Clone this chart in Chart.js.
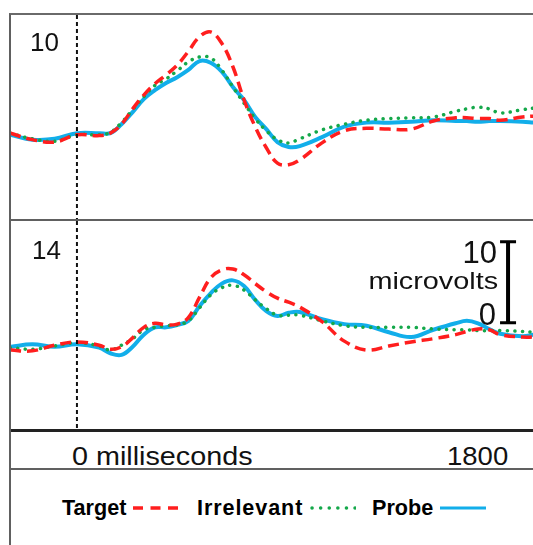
<!DOCTYPE html>
<html>
<head>
<meta charset="utf-8">
<script src="https://cdn.jsdelivr.net/npm/chart.js@4.4.1/dist/chart.umd.min.js"></script>
<style>
  html, body { margin: 0; padding: 0; background: #fff; width: 533px; height: 545px; overflow: hidden; }
  body { position: relative; font-family: "Liberation Sans", Arial, sans-serif; color: #111; }
  #frame { position: absolute; left: 9px; top: 13px; width: 600px; height: 560px;
           border-left: 2px solid #606060; border-top: 2px solid #6a6a6a; }
  .panel { position: absolute; left: 0; width: 522px; }
  #p1 { top: 0; height: 204px; }
  #p2 { top: 206px; height: 208px; }
  .rule { position: absolute; left: 0; width: 600px; }
  #sep { top: 204px; height: 2px; background: #606060; }
  #axline { top: 414px; height: 3px; background: #222; }
  #legline { top: 453px; height: 2px; background: #606060; }
  .axlabel { position: absolute; font-size: 25px; line-height: 25px; white-space: nowrap; transform-origin: 0 50%; }
  .legitem { position: absolute; display: flex; align-items: center; font-weight: bold; font-size: 21.6px; line-height: 21.6px; color: #000; white-space: nowrap; }
  .legitem svg { margin-left: 7px; }
</style>
</head>
<body>
<div id="frame">
  <div class="panel" id="p1"><canvas id="chart1"></canvas></div>
  <div class="rule" id="sep"></div>
  <div class="panel" id="p2"><canvas id="chart2"></canvas></div>
  <div class="rule" id="axline"></div>
  <div id="axisLabels"></div>
  <div class="rule" id="legline"></div>
  <div id="legend"></div>
</div>
<script>
// temps (ms) de chaque point
const timesMs = [-300, -200, -100, 0, 100, 150, 200, 250, 300, 350, 400, 450, 500, 550, 600, 650, 700, 750,
                 800, 850, 900, 950, 1000, 1100, 1200, 1300, 1400, 1500, 1600, 1700, 1750, 1800, 1850, 1900, 2000, 2050];

// panneau "10" (microvolts)
const p1Target     = [0.1, -0.7, -1.0, -0.1, -0.2, 0.1, 1.2, 3.1, 4.8, 6.2, 7.3, 8.5, 10.2, 12.0, 12.6, 11.2, 8.3, 4.2,
                      0.9, -1.7, -3.6, -3.8, -3.2, -1.1, 0.4, 0.7, 0.6, 0.6, 1.6, 2.0, 2.0, 1.9, 1.9, 1.7, 2.1, 2.2];
const p1Irrelevant = [0.1, -0.6, -0.9, -0.1, -0.1, 0.2, 1.4, 3.0, 4.6, 6.0, 6.8, 7.8, 8.9, 9.5, 9.4, 7.9, 5.8, 3.8,
                      1.9, 0.4, -0.7, -1.1, -0.6, 0.5, 1.2, 1.7, 1.9, 2.0, 2.1, 2.8, 3.1, 3.3, 3.1, 2.6, 3.0, 3.2];
const p1Probe      = [-0.1, -0.7, -0.6, 0.1, 0.1, 0.1, 1.2, 2.7, 4.3, 5.4, 6.3, 7.0, 7.9, 9.0, 8.8, 7.7, 5.8, 4.2,
                      2.1, 0.6, -1.0, -1.6, -1.5, -0.4, 0.9, 1.4, 1.4, 1.5, 1.7, 1.6, 1.6, 1.5, 1.6, 1.6, 1.5, 1.4];

// panneau "14"
const p2Target     = [-0.5, -0.6, 0.1, 0.5, 0.1, -0.4, -0.1, 1.0, 2.3, 2.8, 2.6, 2.7, 3.5, 6.0, 8.4, 9.4, 9.5, 8.8,
                      7.7, 6.7, 5.9, 5.4, 4.8, 3.0, 0.6, -0.5, 0.0, 0.5, 0.9, 1.4, 1.8, 2.1, 2.0, 1.4, 1.1, 1.1];
const p2Irrelevant = [-0.2, -0.4, 0.0, 0.4, 0.0, -0.5, 0.1, 0.9, 2.0, 2.3, 2.5, 2.6, 3.1, 4.7, 6.3, 7.2, 7.5, 6.9,
                      5.7, 4.6, 3.8, 3.8, 3.8, 3.1, 2.5, 2.3, 2.3, 2.3, 2.1, 2.0, 2.0, 1.9, 1.9, 1.9, 1.8, 1.7];
const p2Probe      = [-0.1, 0.2, -0.1, 0.2, -0.2, -0.9, -1.1, -0.1, 1.4, 2.3, 2.3, 2.6, 3.1, 4.9, 6.5, 7.7, 8.1, 7.4,
                      5.7, 4.3, 3.7, 4.1, 4.2, 3.3, 2.7, 2.5, 1.7, 1.1, 2.0, 2.8, 3.1, 2.8, 2.1, 1.5, 1.2, 1.4];

const seriesNames = ['Target', 'Irrelevant', 'Probe'];
const panelLabels = ['10', '14'];
const xTickLabels = ['0 milliseconds', '1800'];
const scaleBarLabels = ['10', 'microvolts', '0'];
const scaleBarUv = 10;

// styles
const colors = ['#ff1e1e', '#14a84a', '#12aeea'];
const dashes = [[11, 6], [0.1, 7.5], []];
const widths = [3.5, 3.5, 4];

function pairs(vals) {
  return timesMs.map((t, i) => ({ x: t, y: vals[i] }));
}

// décor : ligne d'origine, numéro du panneau, barre d'échelle
const panelDecor = {
  id: 'panelDecor',
  afterDatasetsDraw(chart, args, opts) {
    const { ctx, chartArea, scales: { x, y } } = chart;
    const x0 = x.getPixelForValue(0);
    ctx.save();
    ctx.strokeStyle = '#111';
    ctx.lineWidth = 2;
    ctx.setLineDash([4, 3]);
    ctx.beginPath();
    ctx.moveTo(x0, chartArea.top);
    ctx.lineTo(x0, chartArea.bottom);
    ctx.stroke();
    ctx.setLineDash([]);

    ctx.fillStyle = '#111';
    ctx.font = '26px "Liberation Sans", Arial, sans-serif';
    ctx.textAlign = 'left';
    ctx.textBaseline = 'alphabetic';
    ctx.fillText(opts.label, opts.labelX, opts.labelY);

    if (opts.scaleBar) {
      const sb = opts.scaleBar;
      const bx = x.getPixelForValue(sb.atMs);
      const yTop = y.getPixelForValue(sb.fromUv + scaleBarUv);
      const yBot = y.getPixelForValue(sb.fromUv);
      ctx.strokeStyle = '#000';
      ctx.lineWidth = 4;
      ctx.beginPath();
      ctx.moveTo(bx, yTop); ctx.lineTo(bx, yBot);
      ctx.stroke();
      ctx.lineWidth = 3;
      ctx.beginPath();
      ctx.moveTo(bx - 8, yTop); ctx.lineTo(bx + 8, yTop);
      ctx.moveTo(bx - 8, yBot); ctx.lineTo(bx + 8, yBot);
      ctx.stroke();

      ctx.fillStyle = '#111';
      ctx.textAlign = 'right';
      ctx.font = '31px "Liberation Sans", Arial, sans-serif';
      ctx.fillText(scaleBarLabels[0], bx - 11, yTop + 21.5);
      ctx.fillText(scaleBarLabels[2], bx - 12, yBot + 2.5);
      ctx.save();
      ctx.translate(bx - 10, yTop + 47.5);
      ctx.scale(1.2, 1);
      ctx.font = '24px "Liberation Sans", Arial, sans-serif';
      ctx.fillText(scaleBarLabels[1], 0, 0);
      ctx.restore();
    }
    ctx.restore();
  }
};

function makePanel(canvasId, series, yMin, yMax, decor) {
  return new Chart(document.getElementById(canvasId), {
    type: 'line',
    data: {
      datasets: series.map((vals, i) => ({
        label: seriesNames[i],
        data: pairs(vals),
        borderColor: colors[i],
        borderWidth: widths[i],
        borderDash: dashes[i],
        borderCapStyle: i === 1 ? 'round' : 'butt',
        pointRadius: 0,
        fill: false,
        tension: 0.4
      }))
    },
    options: {
      responsive: true,
      maintainAspectRatio: false,
      animation: false,
      layout: { padding: 0 },
      plugins: {
        legend: { display: false },
        tooltip: { enabled: false },
        panelDecor: decor
      },
      scales: {
        x: { type: 'linear', min: -296, max: 2047, display: false },
        y: { min: yMin, max: yMax, display: false }
      }
    },
    plugins: [panelDecor]
  });
}

makePanel('chart1', [p1Target, p1Irrelevant, p1Probe], -10.5, 14.69,
  { label: panelLabels[0], labelX: 19, labelY: 36 });
makePanel('chart2', [p2Target, p2Irrelevant, p2Probe], -10.25, 15.43,
  { label: panelLabels[1], labelX: 21, labelY: 38, scaleBar: { atMs: 1935, fromUv: 2.87 } });

// étiquettes de l'axe du temps
const axisBox = document.getElementById('axisLabels');
const axisPos = [{ left: 61, sx: 1.15 }, { left: 436, sx: 1.1 }];
xTickLabels.forEach((txt, i) => {
  const s = document.createElement('span');
  s.className = 'axlabel';
  s.textContent = txt;
  s.style.left = axisPos[i].left + 'px';
  s.style.top = '429px';
  s.style.transform = 'scaleX(' + axisPos[i].sx + ')';
  axisBox.appendChild(s);
});

// légende : texte puis échantillon de trait
const legendBox = document.getElementById('legend');
const legendLeft = [51, 186, 361];
seriesNames.forEach((name, i) => {
  const item = document.createElement('div');
  item.className = 'legitem';
  item.style.left = legendLeft[i] + 'px';
  item.style.top = '482px';
  const t = document.createElement('span');
  t.textContent = name;
  if (i === 1) t.style.letterSpacing = '0.9px';
  item.appendChild(t);
  const svgNS = 'http://www.w3.org/2000/svg';
  const svg = document.createElementNS(svgNS, 'svg');
  svg.setAttribute('width', '46');
  svg.setAttribute('height', '8');
  const ln = document.createElementNS(svgNS, 'line');
  ln.setAttribute('x1', i === 1 ? '2' : '0');
  ln.setAttribute('x2', '46');
  ln.setAttribute('y1', '4');
  ln.setAttribute('y2', '4');
  ln.setAttribute('stroke', colors[i]);
  ln.setAttribute('stroke-width', i === 2 ? '3' : '3.5');
  if (i === 0) ln.setAttribute('stroke-dasharray', '10 7.5');
  if (i === 1) { ln.setAttribute('stroke-dasharray', '0.1 8.5'); ln.setAttribute('stroke-linecap', 'round'); }
  svg.appendChild(ln);
  item.appendChild(svg);
  legendBox.appendChild(item);
});
</script>
</body>
</html>
